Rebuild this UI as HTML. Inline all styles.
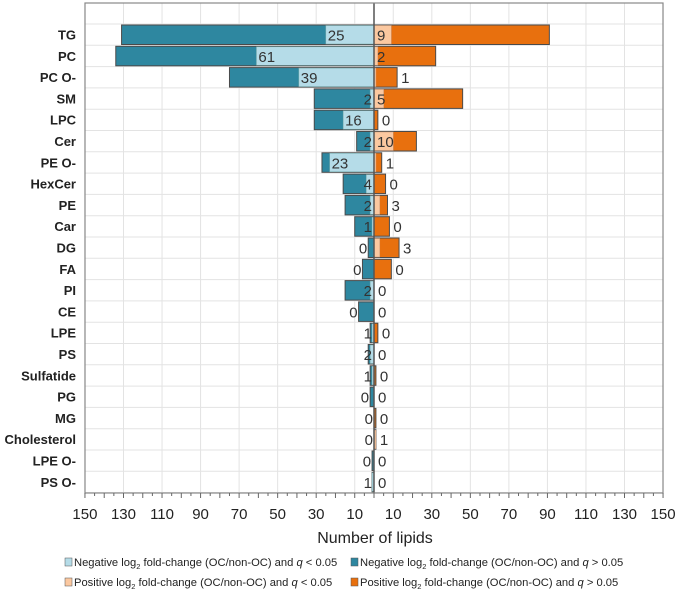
<!DOCTYPE html>
<html><head><meta charset="utf-8"><style>
body{margin:0;background:#fff;}
svg{display:block;font-family:"Liberation Sans",sans-serif;}
</style></head><body>
<svg id="chart" width="677" height="595" viewBox="0 0 677 595">
<g id="grid"></g>
<g id="bars"></g>
<g id="labels"></g>
<g id="yaxis"></g>
<g id="xaxis"></g>
<text x="375" y="543" text-anchor="middle" font-size="16" fill="#222">Number of lipids</text>
<g font-size="11.2" fill="#222">
 <g><rect x="65" y="558" width="7" height="8" fill="#b5dce8" stroke="#555" stroke-width="0.5"/><text x="74" y="566">Negative log<tspan font-size="7.5" dy="3">2</tspan><tspan dy="-3"> fold-change (OC/non-OC) and </tspan><tspan font-style="italic">q</tspan> &lt; 0.05</text></g>
 <g><rect x="351" y="558" width="7" height="8" fill="#2e87a0" stroke="#555" stroke-width="0.5"/><text x="360" y="566">Negative log<tspan font-size="7.5" dy="3">2</tspan><tspan dy="-3"> fold-change (OC/non-OC) and </tspan><tspan font-style="italic">q</tspan> &gt; 0.05</text></g>
 <g><rect x="65" y="578" width="7" height="8" fill="#fbc8a0" stroke="#555" stroke-width="0.5"/><text x="74" y="586">Positive log<tspan font-size="7.5" dy="3">2</tspan><tspan dy="-3"> fold-change (OC/non-OC) and </tspan><tspan font-style="italic">q</tspan> &lt; 0.05</text></g>
 <g><rect x="351" y="578" width="7" height="8" fill="#e8700e" stroke="#555" stroke-width="0.5"/><text x="360" y="586">Positive log<tspan font-size="7.5" dy="3">2</tspan><tspan dy="-3"> fold-change (OC/non-OC) and </tspan><tspan font-style="italic">q</tspan> &gt; 0.05</text></g>
</g>
</svg>
<script>
const categories=["TG","PC","PC O-","SM","LPC","Cer","PE O-","HexCer","PE","Car","DG","FA","PI","CE","LPE","PS","Sulfatide","PG","MG","Cholesterol","LPE O-","PS O-"];
const negTotal=[131,134,75,31,31,9,27,16,15,10,3,6,15,8,2,3,2,2,0,0,1,1];
const negSig=[25,61,39,2,16,2,23,4,2,1,0,0,2,0,1,2,1,0,0,0,0,1];
const posTotal=[91,32,12,46,2,22,4,6,7,8,13,9,0,0,2,0,1,0,1,1,0,0];
const posSig=[9,2,1,5,0,10,1,0,3,0,3,0,0,0,0,0,0,0,0,1,0,0];
const tickLabels=[150,130,110,90,70,50,30,10];

const NS="http://www.w3.org/2000/svg";
const cx=374,pxu=1.927,pLeft=85,pRight=663,pTop=3,pBottom=493,rowTop=25,pitch=21.3,bh=19.5;
function xL(v){return cx-v*pxu;}
function xR(v){return cx+v*pxu;}
function rowY(i){return rowTop+i*pitch;}
function mk(tag,attrs,parent){const e=document.createElementNS(NS,tag);for(const k in attrs)e.setAttribute(k,attrs[k]);parent.appendChild(e);return e;}
const grid=document.getElementById('grid'),bars=document.getElementById('bars'),labels=document.getElementById('labels'),yaxis=document.getElementById('yaxis'),xaxis=document.getElementById('xaxis');

tickLabels.forEach(v=>{
  [xL(v),xR(v)].forEach(x=>{const l=mk('line',{x1:x,x2:x,y1:pTop,y2:pBottom,stroke:'#e3e3e3','stroke-width':1},grid);
  
  });
});
for(let i=0;i<=categories.length;i++){
  const y=rowY(i)-1;
  const l=mk('line',{x1:pLeft,x2:pRight,y1:y,y2:y,stroke:'#e3e3e3','stroke-width':1},grid);
  
  
}

categories.forEach((c,i)=>{
  const y=rowY(i);
  const st={stroke:'#4a4a4a','stroke-width':1};
  if(negTotal[i]>0){const r=mk('rect',Object.assign({x:xL(negTotal[i]),y:y,width:negTotal[i]*pxu,height:bh,fill:'#2e87a0'},st),bars);
    
    }
  if(negSig[i]>0){const r=mk('rect',{x:xL(negSig[i]),y:y+0.5,width:negSig[i]*pxu,height:bh-1,fill:'#b5dce8',stroke:'#7aa',"stroke-width":0.5},bars);
    
    }
  if(posTotal[i]>0){const r=mk('rect',Object.assign({x:cx,y:y,width:posTotal[i]*pxu,height:bh,fill:'#e8700e'},st),bars);
    
    }
  if(posSig[i]>0){const r=mk('rect',{x:cx,y:y+0.5,width:posSig[i]*pxu,height:bh-1,fill:'#fbc8a0',stroke:'#c97',"stroke-width":0.5},bars);
    
    }
  const ns=String(negSig[i]),w=ns.length*7.8;
  let lx;
  if(negSig[i]===0) lx=xL(negTotal[i])-1;
  else lx=Math.min(xL(negSig[i])+3+w,cx-2);
  const t1=mk('text',{x:lx,y:y+15.5,'text-anchor':'end','font-size':15,fill:'#333'},labels);
  t1.textContent=ns;
  
  
  const ps=String(posSig[i]);
  const rx=posTotal[i]>15?cx+3:xR(posTotal[i])+4;
  const t2=mk('text',{x:rx,y:y+15.5,'text-anchor':'start','font-size':15,fill:'#333'},labels);
  t2.textContent=ps;
  
  
  const t3=mk('text',{x:76,y:y+14.5,'text-anchor':'end','font-size':13,'font-weight':'bold',fill:'#222'},yaxis);
  t3.textContent=c;
  
  
});
mk('line',{x1:cx,x2:cx,y1:pTop,y2:pBottom,stroke:'#555','stroke-width':1.5},bars);
mk('rect',{x:pLeft,y:pTop,width:pRight-pLeft,height:pBottom-pTop,fill:'none',stroke:'#888','stroke-width':1.2},xaxis);
for(let v=0;v<=150;v+=5){
  [xL(v),xR(v)].forEach(x=>{mk('line',{x1:x,x2:x,y1:pBottom,y2:pBottom+(v%10===0?5:3),stroke:'#666','stroke-width':1},xaxis);});
}
tickLabels.forEach(v=>{
  [xL(v),xR(v)].forEach(x=>{const t=mk('text',{x:x,y:519,'text-anchor':'middle','font-size':15,fill:'#222'},xaxis);
  t.textContent=v;
  
  });
});
</script>
</body></html>
